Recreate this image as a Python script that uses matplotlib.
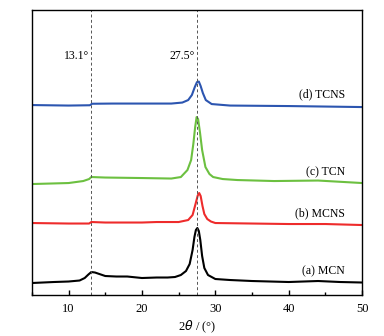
import matplotlib
matplotlib.use('Agg')
import matplotlib.pyplot as plt
from matplotlib.ticker import MultipleLocator

plt.rcParams['font.family'] = ['Liberation Serif', 'DejaVu Serif']

# XRD patterns (intensity in arbitrary units)
mcn_x = [5, 8, 10, 11.5, 12.2, 12.7, 13.1, 13.6, 14.2, 15, 16.5, 18, 20, 22, 23.5, 24.5,
         25.3, 26, 26.5, 26.9, 27.15, 27.35, 27.55, 27.75, 27.95, 28.2, 28.5, 29, 30, 32,
         35, 40, 44, 47, 50]
mcn_y = [12, 13, 13.5, 14.5, 17, 20.5, 23, 22.5, 21, 19, 18.5, 18.5, 17, 17.5, 17.5, 18,
         20, 24, 31, 45, 58, 65, 67, 64, 55, 39, 27, 20, 16, 15,
         14, 13, 14, 13, 12.5]

mcns_x = [5, 10, 12.8, 13.1, 15, 20, 22, 25, 26.3, 26.9, 27.3, 27.6, 27.8, 28.0, 28.25,
          28.5, 28.9, 29.4, 30, 35, 40, 45, 50]
mcns_y = [72, 71.5, 71.5, 73, 72.5, 72.5, 73, 73, 75, 80, 91, 99.5, 102, 99, 89,
          81, 76, 73.5, 72, 71.5, 71, 71, 70]

tcn_x = [5, 10, 12, 12.8, 13.1, 15, 20, 24, 25.3, 26.2, 26.7, 27.0, 27.25, 27.45, 27.65,
         27.9, 28.2, 28.65, 29.2, 29.7, 31, 33, 38, 44, 50]
tcn_y = [111, 112, 114, 116, 118, 117.5, 117, 116.5, 118, 125, 135, 151, 168, 178, 176,
         163, 145, 128, 121, 118, 116, 115, 114, 114.5, 112]

tcns_x = [5, 10, 12.9, 13.2, 16, 20, 24, 25.5, 26.3, 26.8, 27.2, 27.5, 27.75, 28.0, 28.3,
          28.7, 29.5, 32, 40, 50]
tcns_y = [190, 189.5, 189.8, 191.3, 191.5, 191.5, 191.5, 192.5, 195, 200, 208, 213, 213.5, 209, 202,
          195, 191, 189.5, 189, 188]

series = [
    (mcn_x, mcn_y, 'black', '(a) MCN', 23.5),
    (mcns_x, mcns_y, '#ee2b2b', '(b) MCNS', 82),
    (tcn_x, tcn_y, '#6cc040', '(c) TCN', 122.5),
    (tcns_x, tcns_y, '#2c55b0', '(d) TCNS', 201),
]
ref_peaks = [13.1, 27.5]
ref_labels = ['13.1°', '27.5°']

fig = plt.figure(figsize=(3.84, 3.36), dpi=100)
ax = fig.add_axes([0.083, 0.122, 0.860, 0.848])

for xs, ys, color, label, label_y in series:
    ax.plot(xs, ys, color=color, linewidth=1.5)
    ax.text(47.7, label_y, label, ha='right', va='center', fontsize=8.5)

for pos, lab in zip(ref_peaks, ref_labels):
    ax.axvline(pos, color='#555555', linestyle='--', linewidth=0.7, dashes=(3, 2.5))
    ax.text(pos - 0.3, 239, lab, ha='right', va='center', fontsize=8.5)

ax.set_xlim(5, 50)
ax.set_ylim(0, 285)
ax.set_yticks([])
ax.xaxis.set_major_locator(MultipleLocator(10))
ax.xaxis.set_minor_locator(MultipleLocator(5))
ax.tick_params(axis='x', which='major', direction='in', length=3.5, width=1.0,
               labelsize=9, pad=6)
ax.tick_params(axis='x', which='minor', direction='in', length=2, width=1.0)
for spine in ax.spines.values():
    spine.set_linewidth(1.0)
ax.set_xlabel(r'2$\it{\theta}$ / (°)', fontsize=9, labelpad=2)

fig.savefig('out.png', dpi=100)
plt.close(fig)
